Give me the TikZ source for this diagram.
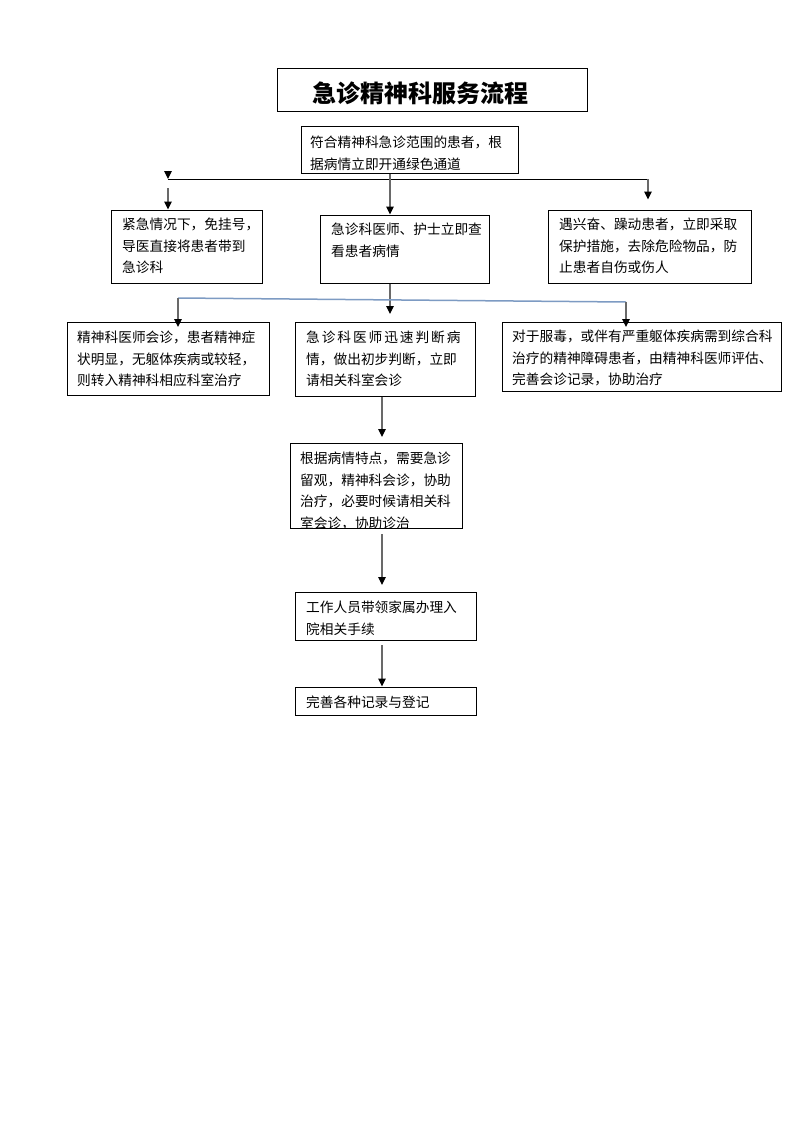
\documentclass[tikz,border=0pt]{standalone}
\usepackage{fontspec}
\newfontfamily\cjk{Noto Sans CJK SC}
\usetikzlibrary{arrows.meta}
\definecolor{lnblue}{RGB}{125,155,195}
\definecolor{lngray}{RGB}{105,105,105}
\begin{document}
\begin{tikzpicture}[x=1pt,y=-1pt,
  box/.style={draw=black,line width=1pt,inner sep=0pt},
  txt/.style={anchor=north west,align=left,inner sep=0pt,font=\cjk\fontsize{13.7}{21.5}\selectfont},
  arr/.style={draw=lngray,line width=1.2pt,-{Triangle[length=8pt,width=7.5pt,color=black]}},
  ln/.style={draw=black,line width=1pt},
  bln/.style={draw=lnblue,line width=1.5pt}]
\fill[white] (0,0) rectangle (793,1122);
\useasboundingbox (0,0) rectangle (793,1122);

% boxes
\node[box,minimum width=310pt,minimum height=43pt] (title) at (432,89.5) {};
\node[font=\cjk\bfseries\fontsize{24}{24}\selectfont,inner sep=0pt] (ttext) at (420,93) {急诊精神科服务流程};

\node[box,minimum width=217pt,minimum height=47pt] (b1) at (409.5,149.5) {};
\node[txt] (t1) at (310,136) {符合精神科急诊范围的患者，根\\据病情立即开通绿色通道};

\node[box,minimum width=151pt,minimum height=73pt] (b2) at (186.5,246.5) {};
\node[txt] (t2) at (122,218) {紧急情况下，免挂号，\\导医直接将患者带到\\急诊科};

\node[box,minimum width=169pt,minimum height=68pt] (b3) at (404.5,249) {};
\node[txt] (t3) at (331,223) {急诊科医师、护士立即查\\看患者病情};

\node[box,minimum width=203pt,minimum height=73pt] (b4) at (649.5,246.5) {};
\node[txt] (t4) at (559,218) {遇兴奋、躁动患者，立即采取\\保护措施，去除危险物品，防\\止患者自伤或伤人};

\node[box,minimum width=202pt,minimum height=73pt] (b5) at (168,358.5) {};
\node[txt] (t5) at (77,331) {精神科医师会诊，患者精神症\\状明显，无躯体疾病或较轻，\\则转入精神科相应科室治疗};

\node[box,minimum width=180pt,minimum height=74pt] (b6) at (385,359) {};
\node[txt] (t6) at (306,331) {{\addfontfeature{LetterSpace=14}急诊科医师迅速判断病}\\情，做出初步判断，立即\\请相关科室会诊};

\node[box,minimum width=279pt,minimum height=69pt] (b7) at (641.5,356.5) {};
\node[txt] (t7) at (512,330) {对于服毒，或伴有严重躯体疾病需到综合科\\治疗的精神障碍患者，由精神科医师评估、\\完善会诊记录，协助治疗};

\node[box,minimum width=172pt,minimum height=85pt] (b8) at (376,485.5) {};
\begin{scope}
\clip (b8.north west) rectangle (b8.south east);
\node[txt] (t8) at (300,452) {根据病情特点，需要急诊\\留观，精神科会诊，协助\\治疗，必要时候请相关科\\室会诊，协助诊治};
\end{scope}

\node[box,minimum width=181pt,minimum height=48pt] (b9) at (385.5,616) {};
\node[txt] (t9) at (306,601) {工作人员带领家属办理入\\院相关手续};

\node[box,minimum width=181pt,minimum height=28pt] (b10) at (385.5,701) {};
\node[txt] (t10) at (306,696) {完善各种记录与登记};

% helper coordinates
\coordinate (v1) at (390,0);
\coordinate (hL) at (168,179);
\coordinate (hLt) at (168,170.5);
\coordinate (hR) at (648,179);
\coordinate (hRe) at (648,199.5);
\coordinate (lArrS) at (168,188);
\coordinate (mEnd) at (390,314);
\coordinate (bL) at (178,298);
\coordinate (bR) at (626,302);
\coordinate (bLe) at (178,327);
\coordinate (bRe) at (626,327);
\coordinate (v2) at (382,0);
\coordinate (a1e) at (382,437);
\coordinate (a2s) at (382,534);
\coordinate (a2e) at (382,585);
\coordinate (a3s) at (382,645);

% connectors
\draw[ln] (hL) -- (hR);
\draw[arr] (hLt) -- (hL);
\draw[arr] (lArrS) -- (b2.north -| lArrS);
\draw[arr] (b1.south -| v1) -- (b3.north -| v1);
\draw[arr] (hR) -- (hRe);
\draw[arr] (b3.south -| v1) -- (mEnd);
\draw[bln] (bL) -- (bR);
\draw[arr] (bL) -- (bLe);
\draw[arr] (bR) -- (bRe);
\draw[arr] (b6.south -| v2) -- (a1e);
\draw[arr] (a2s) -- (a2e);
\draw[arr] (a3s) -- (b10.north -| v2);
\end{tikzpicture}
\end{document}
